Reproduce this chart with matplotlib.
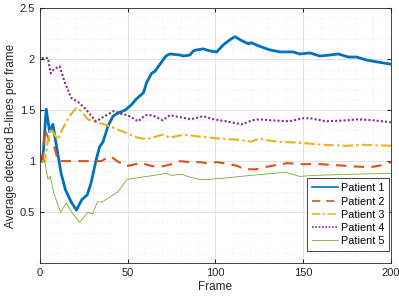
import matplotlib
matplotlib.use("Agg")
import matplotlib.pyplot as plt
from matplotlib.ticker import MultipleLocator

plt.rcParams['font.family'] = ['Liberation Sans', 'DejaVu Sans']

p1_f = [1, 2, 3.6, 5.5, 7.4, 9.3, 12.1, 14.5, 17.8, 20.8, 23.8, 27, 29.2, 32, 34, 36, 38.7, 41.6, 44.4,
        48.6, 52, 55, 59, 60.8, 63.6, 65.5, 68.4, 71.8, 74, 79.8, 81.7, 85.5, 87.4, 89.3, 93, 96.9,
        100.7, 104.5, 108.3, 111.1, 115, 118.7, 120.6, 124.4, 131, 136.8, 144.3, 148, 153.8, 159.5,
        165.2, 170, 175.7, 180.4, 186.2, 192.8, 200]
p1_v = [1.0, 1.1, 1.51, 1.29, 1.36, 1.16, 0.88, 0.72, 0.60, 0.52, 0.62, 0.67, 0.79, 1.01, 1.14, 1.19,
        1.34, 1.44, 1.47, 1.50, 1.55, 1.61, 1.67, 1.77, 1.86, 1.88, 1.95, 2.03, 2.05, 2.04, 2.03, 2.04,
        2.08, 2.09, 2.10, 2.08, 2.07, 2.14, 2.19, 2.22, 2.18, 2.15, 2.16, 2.13, 2.09, 2.07, 2.07, 2.05,
        2.06, 2.03, 2.04, 2.05, 2.02, 2.02, 1.99, 1.97, 1.95]

p2_f = [1, 1.7, 2.7, 4.5, 6, 8.4, 10.3, 35, 38, 40, 44, 49, 52, 57, 60, 64, 70, 75, 80, 85, 91, 95,
        101, 108, 113, 116, 123, 128, 131, 141, 148, 160, 169, 177, 188, 195, 200]
p2_v = [1.0, 1.0, 1.31, 1.24, 1.16, 1.13, 1.0, 1.0, 1.03, 1.05, 1.0, 0.95, 0.96, 0.98, 0.97, 0.95,
        0.95, 0.97, 1.0, 0.99, 0.99, 0.98, 0.99, 0.97, 0.95, 0.92, 0.92, 0.94, 0.95, 0.98, 0.97, 0.97,
        0.96, 0.95, 0.94, 0.96, 0.99]

p3_f = [1, 3, 4.5, 6.1, 8, 10.3, 13, 16.9, 20.7, 23.5, 27.4, 32, 36.9, 44.4, 50, 55.8, 59, 62, 70,
        74, 82, 91, 103, 112, 120, 125, 135, 148, 161, 175, 184, 200]
p3_v = [1.0, 1.0, 1.19, 1.32, 1.27, 1.21, 1.32, 1.44, 1.52, 1.49, 1.41, 1.38, 1.36, 1.31, 1.27, 1.23,
        1.22, 1.22, 1.26, 1.23, 1.26, 1.24, 1.22, 1.21, 1.19, 1.22, 1.19, 1.18, 1.16, 1.15, 1.16, 1.15]

p4_f = [1, 4.6, 6.1, 8, 11.2, 14, 17.8, 21.7, 25.5, 32, 36.9, 42, 47, 50, 56, 60, 64, 70, 74, 80, 86,
        93, 99, 106, 115, 121, 125, 131, 142, 150, 154, 163, 175, 181, 190, 200]
p4_v = [2.01, 2.01, 1.86, 1.90, 1.93, 1.78, 1.62, 1.58, 1.52, 1.39, 1.44, 1.49, 1.46, 1.45, 1.39,
        1.45, 1.45, 1.40, 1.45, 1.43, 1.41, 1.44, 1.41, 1.39, 1.36, 1.40, 1.41, 1.40, 1.39, 1.42, 1.42,
        1.39, 1.40, 1.41, 1.40, 1.38]

p5_f = [1, 2.7, 4.6, 5.9, 8, 11.8, 15, 18.5, 22.6, 25, 27.4, 30, 32.7, 35.5, 44.6, 49.4, 57, 65, 72,
        75, 81, 84, 91, 95, 103, 120, 140, 142, 148, 156, 175, 200]
p5_v = [1.0, 1.0, 0.82, 0.85, 0.68, 0.50, 0.59, 0.49, 0.40, 0.45, 0.50, 0.48, 0.60, 0.60, 0.70,
        0.82, 0.84, 0.86, 0.88, 0.86, 0.87, 0.85, 0.82, 0.82, 0.83, 0.86, 0.89, 0.88, 0.85, 0.86, 0.87,
        0.88]

labels = ['Patient 1', 'Patient 2', 'Patient 3', 'Patient 4', 'Patient 5']
x_ticks = [0, 50, 100, 150, 200]
y_ticks = [0.5, 1, 1.5, 2, 2.5]

fig = plt.figure(figsize=(3.99, 2.99), dpi=100)
ax = fig.add_axes([0.1, 0.12, 0.88, 0.853])

ax.plot(p1_f, p1_v, color='#0072BD', lw=2.0, ls='-', label=labels[0])
ax.plot(p2_f, p2_v, color='#D95319', lw=1.5, ls=(0, (5, 3.5)), label=labels[1])
ax.plot(p3_f, p3_v, color='#EDB120', lw=1.5, ls=(0, (5, 1.5, 1.2, 1.5)), label=labels[2])
ax.plot(p4_f, p4_v, color='#7E2F8E', lw=1.5, ls=(0, (1, 1)), label=labels[3])
ax.plot(p5_f, p5_v, color='#77AC30', lw=0.6, ls='-', label=labels[4])

ax.set_xlim(0, 200)
ax.set_ylim(0, 2.5)
ax.set_xticks(x_ticks)
ax.set_xticklabels([str(t) for t in x_ticks])
ax.set_yticks(y_ticks)
ax.set_yticklabels(['0.5', '1', '1.5', '2', '2.5'])
ax.xaxis.set_minor_locator(MultipleLocator(10))
ax.yaxis.set_minor_locator(MultipleLocator(0.1))
ax.grid(True, which='major', color='#dcdcdc', lw=0.6, ls='-')
ax.grid(True, which='minor', color='#e3e3e3', lw=0.5, ls=(0, (1, 2)))
ax.set_axisbelow(True)
ax.tick_params(which='both', direction='in', top=True, right=True, labelsize=8, colors='#262626')
ax.tick_params(which='major', length=3)
ax.tick_params(which='minor', length=0)
for s in ax.spines.values():
    s.set_color('#262626')
    s.set_linewidth(0.6)
ax.set_xlabel('Frame', fontsize=8.5, color='#262626', labelpad=2)
ax.set_ylabel('Average detected B-lines per frame', fontsize=8.5, color='#262626', labelpad=2)

leg = ax.legend(loc='lower right', bbox_to_anchor=(0.994, 0.047), borderaxespad=0,
                fontsize=7.8, frameon=True, fancybox=False, framealpha=1,
                edgecolor='#262626', borderpad=0.45, labelspacing=0.3, handlelength=2.4,
                handletextpad=0.25)
leg.get_frame().set_linewidth(0.6)
for h in leg.get_lines()[:4]:
    h.set_linewidth(1.2)

fig.savefig('out.png', dpi=100)
